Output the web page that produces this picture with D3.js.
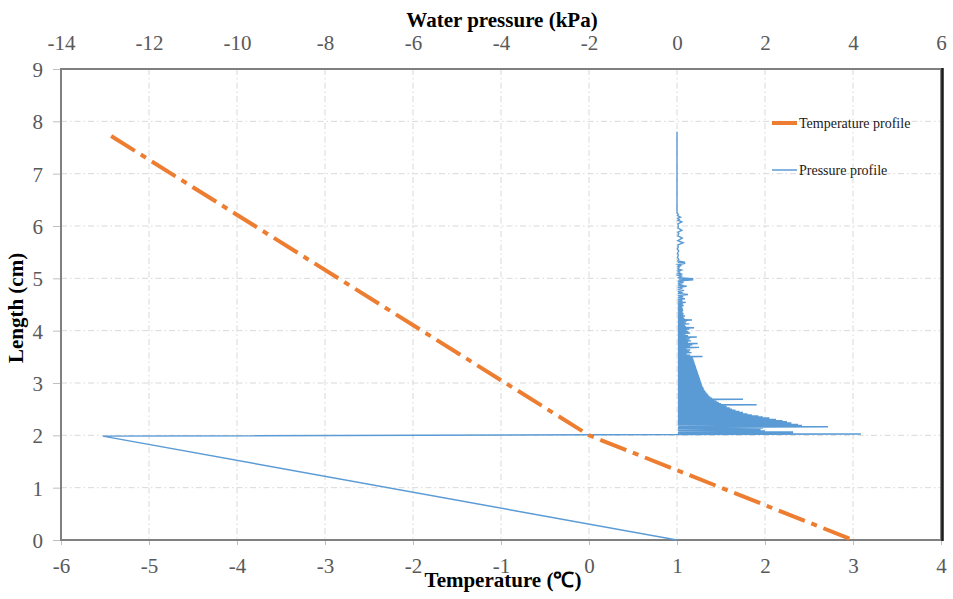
<!DOCTYPE html>
<html>
<head>
<meta charset="utf-8">
<script src="https://cdn.jsdelivr.net/npm/d3@7"></script>
<style>
  body { margin: 0; background: #fff; }
  svg { display: block; }
  .tick text { font-family: "Liberation Serif", "Times New Roman", serif; font-size: 21px; fill: #595959; }
</style>
</head>
<body>
<svg id="chart" width="953" height="599"></svg>
<script>
// ---- data ----
var tempTicks = [-6, -5, -4, -3, -2, -1, 0, 1, 2, 3, 4];
var pressTicks = [-14, -12, -10, -8, -6, -4, -2, 0, 2, 4, 6];
var lengthTicks = [0, 1, 2, 3, 4, 5, 6, 7, 8, 9];

// temperature profile: [°C, cm]
var temperatureProfile = [[-5.43, 7.72], [0, 2.0], [3.0, 0]];

// pressure profile: [kPa, cm]
var pressureProfile = [
  [0, 0], [-13.05, 1.985], [4.18, 2.025],
  [0.02,2.035],[2.64,2.045],[0.02,2.055],[2.64,2.065],[0.03,2.075],[2.0,2.085],[0.02,2.095],[1.9,2.11],[0.02,2.125],[1.95,2.14],
  [0.02,2.15],[3.43,2.165],[0.03,2.175],[2.84,2.19],[0.02,2.2],[2.75,2.21],[0.02,2.22],[2.6,2.235],[0.02,2.245],[2.5,2.26],
  [0.02,2.27],[2.4,2.28],[0.02,2.29],[2.25,2.305],[0.02,2.315],[2.1,2.33],[0.02,2.34],[1.95,2.35],[0.02,2.36],[1.85,2.37],
  [0.02,2.38],[1.7,2.39],[0.02,2.4],[1.6,2.41],[0.02,2.42],[1.5,2.435],[0.02,2.445],[1.42,2.455],[0.02,2.465],[1.33,2.48],
  [0.02,2.49],[1.25,2.5],[0.02,2.51],[1.2,2.525],[0.02,2.535],[1.13,2.545],[0.02,2.555],[1.1,2.565],[0.02,2.575],[1.81,2.585],
  [0.02,2.595],[1.0,2.605],[0.02,2.615],[0.95,2.63],[0.02,2.64],[0.9,2.65],[0.02,2.66],[0.85,2.67],[0.02,2.68],[1.5,2.69],
  [0.02,2.7],[0.8,2.71],[0.02,2.72],[0.76,2.735],[0.02,2.745],[0.72,2.76],[0.02,2.77],[0.7,2.785],[0.02,2.795],[0.67,2.81],
  [0.02,2.82],[0.65,2.835],[0.02,2.845],[0.63,2.86],[0.02,2.87],[0.61,2.885],[0.02,2.895],[0.6,2.91],[0.02,2.92],[0.58,2.935],
  [0.02,2.945],[0.57,2.96],[0.02,2.97],[0.56,2.985],[0.02,2.995],[0.55,3.01],[0.02,3.02],[0.54,3.035],[0.02,3.045],[0.53,3.06],
  [0.02,3.07],[0.52,3.085],[0.02,3.095],[0.51,3.11],[0.02,3.12],[0.5,3.135],[0.02,3.145],[0.49,3.16],[0.02,3.17],[0.48,3.185],
  [0.02,3.195],[0.47,3.21],[0.02,3.22],[0.46,3.235],[0.02,3.245],[0.45,3.26],[0.02,3.27],[0.44,3.285],[0.02,3.295],[0.43,3.31],
  [0.02,3.32],[0.42,3.335],[0.02,3.345],[0.41,3.36],[0.02,3.37],[0.4,3.385],[0.02,3.395],[0.39,3.41],[0.02,3.42],[0.38,3.435],
  [0.02,3.445],[0.37,3.46],[0.02,3.47],[0.36,3.485],[0.02,3.495],[0.58,3.505],[0.02,3.515],[0.3,3.53],[0.02,3.54],[0.22,3.555],
  [0.02,3.565],[0.33,3.58],[0.02,3.59],[0.28,3.605],[0.02,3.615],[0.3,3.63],[0.02,3.64],[0.22,3.655],[0.02,3.665],[0.5,3.68],
  [0.02,3.69],[0.3,3.705],[0.02,3.715],[0.35,3.73],[0.02,3.74],[0.47,3.755],[0.02,3.765],[0.25,3.78],[0.02,3.79],[0.32,3.805],
  [0.02,3.815],[0.28,3.83],[0.02,3.84],[0.3,3.855],[0.02,3.865],[0.45,3.88],[0.02,3.89],[0.25,3.905],[0.02,3.915],[0.2,3.93],
  [0.02,3.94],[0.3,3.955],[0.02,3.965],[0.26,3.98],[0.02,3.99],[0.22,4.005],[0.02,4.015],[0.28,4.03],[0.02,4.04],[0.39,4.055],
  [0.02,4.065],[0.2,4.08],[0.02,4.09],[0.18,4.105],[0.02,4.115],[0.28,4.13],[0.02,4.14],[0.2,4.155],[0.02,4.165],[0.22,4.18],
  [0.02,4.19],[0.34,4.205],[0.02,4.215],[0.17,4.23],[0.02,4.24],[0.15,4.255],[0.02,4.265],[0.18,4.28],[0.02,4.29],[0.14,4.305],
  [0.02,4.315],[0.15,4.33],[0.02,4.345],[0.13,4.36],[0.02,4.375],[0.14,4.39],[0.02,4.405],[0.13,4.42],[0.02,4.435],[0.12,4.45],
  [0.02,4.465],[0.15,4.48],[0.02,4.495],[0.13,4.51],[0.02,4.525],[0.2,4.54],[0.02,4.555],[0.12,4.57],[0.02,4.59],[0.18,4.61],
  [0.02,4.63],[0.14,4.65],[0.02,4.67],[0.25,4.69],[0.02,4.71],[0.1,4.73],[0.02,4.75],[0.16,4.77],[0.02,4.79],[0.12,4.81],
  [0.02,4.83],[0.22,4.85],[0.02,4.87],[0.1,4.89],[0.02,4.91],[0.15,4.93],[0.02,4.95],[0.37,4.97],[0.04,4.985],[0.37,4.995],
  [0.02,5.01],[0.1,5.04],[0.02,5.06],[0.12,5.08],[0.02,5.1],[0.06,5.12],[0.02,5.14],[0.1,5.16],[0.02,5.18],[0.05,5.2],
  [0.02,5.22],[0.08,5.24],[0.02,5.26],[0.19,5.285],[0.02,5.3],[0.18,5.31],[0.02,5.33],[0.04,5.36],[0.01,5.4],[0.03,5.44],
  [0.01,5.48],[0.04,5.52],[0.01,5.56],[0.03,5.6],[0.02,5.64],[0.14,5.68],[0.02,5.72],[0.12,5.77],[0.02,5.81],[0.04,5.85],
  [0.02,5.88],[0.11,5.92],[0.02,5.96],[0.03,6.0],[0.02,6.04],[0.11,6.08],[0.02,6.11],[0.05,6.13],[0.02,6.15],[0.08,6.17],
  [0.01,6.2],[0.03,6.22],[0,6.25],[0,7.8]
];

var seriesNames = ["Temperature profile", "Pressure profile"];
var seriesColors = ["#ED7D31", "#5B9BD5"];

// ---- layout ----
var plotLeft = 61, plotRight = 941, plotTop = 69, plotBottom = 540;
var svg = d3.select("#chart");

var x = d3.scaleLinear().domain([-6, 4]).range([plotLeft, plotRight]);
var xTop = d3.scaleLinear().domain([-14, 6]).range([plotLeft, plotRight]);
var y = d3.scaleLinear().domain([0, 9]).range([plotBottom, plotTop]);
var plain = function(d){ return String(d); };   // hyphen minus like the original

// gridlines (dash dot)
var grid = svg.append("g").attr("class", "grid");
grid.selectAll("line.v").data(tempTicks.slice(1, -1)).join("line")
  .attr("class", "v")
  .attr("x1", d => x(d)).attr("x2", d => x(d))
  .attr("y1", plotTop).attr("y2", plotBottom)
  .style("stroke", "#d9d9d9").style("stroke-width", 1).style("stroke-dasharray", "6,3,1.5,3");
grid.selectAll("line.h").data(lengthTicks.slice(1, -1)).join("line")
  .attr("class", "h")
  .attr("x1", plotLeft).attr("x2", plotRight)
  .attr("y1", d => y(d)).attr("y2", d => y(d))
  .style("stroke", "#d9d9d9").style("stroke-width", 1).style("stroke-dasharray", "6,3,1.5,3");

// axes
var gBottom = svg.append("g").attr("transform", "translate(0," + plotBottom + ")")
  .call(d3.axisBottom(x).tickValues(tempTicks).tickSize(5).tickPadding(4).tickFormat(plain));
gBottom.selectAll(".tick text").attr("dy", null).attr("y", 33);

var gTop = svg.append("g").attr("transform", "translate(0," + plotTop + ")")
  .call(d3.axisTop(xTop).tickValues(pressTicks).tickSize(0).tickPadding(19).tickFormat(plain));

var gLeft = svg.append("g").attr("transform", "translate(" + plotLeft + ",0)")
  .call(d3.axisLeft(y).tickValues(lengthTicks).tickSize(8).tickPadding(10).tickFormat(plain));
gLeft.selectAll(".tick text").attr("dy", "0.36em");

[gBottom, gTop, gLeft].forEach(function(g){
  g.select(".domain").remove();
  g.selectAll(".tick line").style("stroke", "#bfbfbf");
});

// plot frame
svg.append("rect").attr("x", plotLeft).attr("y", plotTop).attr("width", plotRight - plotLeft).attr("height", plotBottom - plotTop)
  .style("fill", "none").style("stroke", "#808080").style("stroke-width", 2);
svg.append("line").attr("x1", plotRight + 1.5).attr("x2", plotRight + 1.5).attr("y1", plotTop - 1).attr("y2", plotBottom + 1)
  .style("stroke", "#1a1a1a").style("stroke-width", 2.5);

// series
var tempLine = d3.line().x(d => x(d[0])).y(d => y(d[1]));
var pressLine = d3.line().x(d => xTop(d[0])).y(d => y(d[1]));

svg.append("path").datum(pressureProfile).attr("d", pressLine)
  .style("fill", "none").style("stroke", seriesColors[1]).style("stroke-width", 1.4)
  .style("stroke-linejoin", "miter");

svg.append("path").datum(temperatureProfile).attr("d", tempLine)
  .style("fill", "none").style("stroke", seriesColors[0]).style("stroke-width", 4)
  .style("stroke-dasharray", "28,7,6,7");

// titles
var serif = '"Liberation Serif", "Times New Roman", serif';
svg.append("text").attr("x", 502).attr("y", 27).attr("text-anchor", "middle")
  .style("font-family", serif).style("font-weight", "bold").style("font-size", "21px").text("Water pressure (kPa)");
svg.append("text").attr("x", 503).attr("y", 587).attr("text-anchor", "middle")
  .style("font-family", serif).style("font-weight", "bold").style("font-size", "21px").text("Temperature (℃)");
svg.append("text").attr("transform", "translate(23,308) rotate(-90)").attr("text-anchor", "middle")
  .style("font-family", serif).style("font-weight", "bold").style("font-size", "21px").text("Length (cm)");

// legend
var legend = svg.append("g");
var legendY = [123, 170];
seriesNames.forEach(function(name, i){
  legend.append("line").attr("x1", 772).attr("x2", 797).attr("y1", legendY[i]).attr("y2", legendY[i])
    .style("stroke", seriesColors[i]).style("stroke-width", i == 0 ? 4 : 1.5);
  legend.append("text").attr("x", 799).attr("y", legendY[i] + 5)
    .style("font-family", serif).style("font-size", "14px").style("fill", "#1a1a1a").text(name);
});
</script>
</body>
</html>
